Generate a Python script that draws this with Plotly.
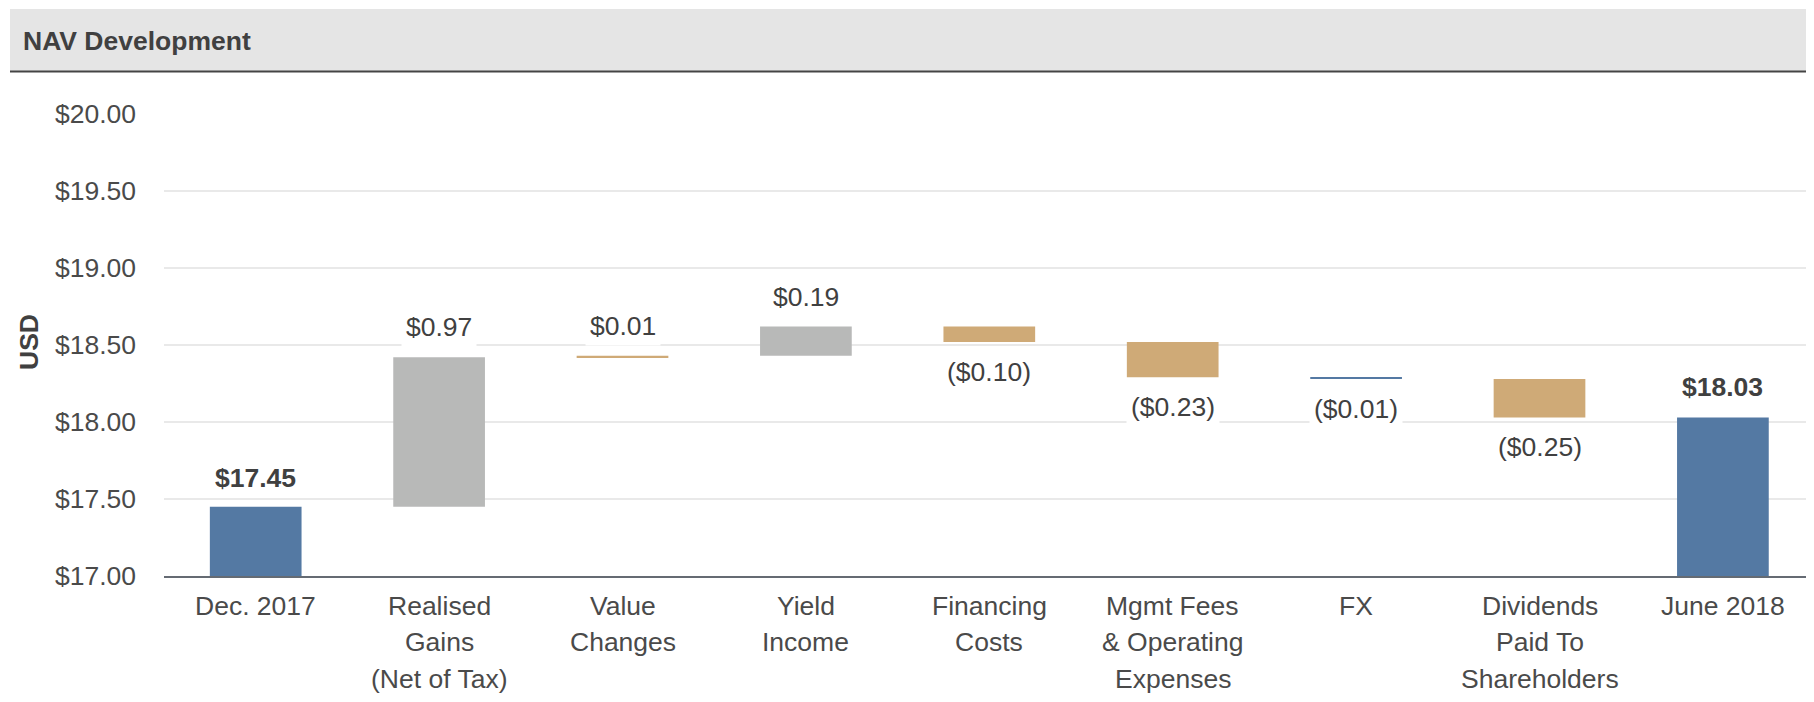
import plotly.graph_objects as go

# ---- data ----
categories = ["Dec. 2017", "Realised<br>Gains<br>(Net of Tax)", "Value<br>Changes", "Yield<br>Income",
              "Financing<br>Costs", "Mgmt Fees<br>& Operating<br>Expenses", "FX",
              "Dividends<br>Paid To<br>Shareholders", "June 2018"]
start_nav = 17.45
changes = [0.97, 0.01, 0.19, -0.10, -0.23, -0.01, -0.25]
end_nav = 18.03
y_ticks = [17.0, 17.5, 18.0, 18.5, 19.0, 19.5, 20.0]
y_tick_text = [f"${v:.2f}" for v in y_ticks]

# ---- styles ----
BLUE = "#5479a3"
GRAY = "#b8b9b8"
TAN = "#cfaa77"
bar_colors = [BLUE, GRAY, TAN, GRAY, TAN, TAN, BLUE, TAN, BLUE]
FONT = "Liberation Sans, Arial, sans-serif"
TXT = "#404040"
TICK = "#4a4a4a"
FS = 26.5

# figure geometry (page body has an 8px margin)
W, H = 1798, 686
ML, MT, MB = 156, 106, 118
PW, PH = W - ML, H - MT - MB


def px(x):  # figure px -> paper x
    return (x - ML) / PW


def py(y):  # figure px -> paper y
    return (H - MB - y) / PH


# ---- derive bars ----
bases, heights = [17.0], [start_nav - 17.0]
running = start_nav
for c in changes:
    bases.append(min(running, running + c))
    heights.append(abs(c))
    running += c
bases.append(17.0)
heights.append(end_nav - 17.0)

fig = go.Figure()
fig.add_trace(go.Bar(x=categories, y=heights, base=bases,
                     marker=dict(color=bar_colors, line=dict(width=0)),
                     width=0.5, hoverinfo="skip"))


def fmt(v):
    return f"${v:.2f}" if v >= 0 else f"(${abs(v):.2f})"


anns = [dict(x=categories[0], y=start_nav, text=f"<b>{fmt(start_nav)}</b>", yshift=29)]
running = start_nav
for i, c in enumerate(changes):
    cat = categories[i + 1]
    anns.append(dict(x=cat, y=running + c, text=fmt(c), yshift=30 if c >= 0 else -30))
    running += c
anns.append(dict(x=categories[-1], y=end_nav, text=f"<b>{fmt(end_nav)}</b>", yshift=30))
for a in anns:
    a.update(xref="x", yref="y", showarrow=False, yanchor="middle", xanchor="center",
             bgcolor="white", borderpad=4, font=dict(family=FONT, size=FS, color=TXT))
    fig.add_annotation(**a)

# category labels (one annotation per line for the original line spacing)
for cat in categories:
    for k, line in enumerate(cat.split("<br>")):
        fig.add_annotation(x=cat, xref="x", y=0, yref="paper", yanchor="middle", xanchor="center",
                           yshift=-(29.5 + 36.5 * k), showarrow=False, text=line,
                           font=dict(family=FONT, size=FS, color=TICK))

# header title & y title
fig.add_annotation(xref="paper", yref="paper", x=px(13), y=py(33),
                   xanchor="left", yanchor="middle", showarrow=False,
                   text="<b>NAV Development</b>", font=dict(family=FONT, size=FS, color=TXT))
fig.add_annotation(xref="paper", yref="paper", x=px(21), y=py(334),
                   xanchor="center", yanchor="middle", showarrow=False, textangle=-90,
                   text="<b>USD</b>", font=dict(family=FONT, size=FS, color=TXT))

# header band
fig.add_shape(type="rect", xref="paper", yref="paper",
              x0=px(2), x1=px(1800), y0=py(63.5), y1=py(1),
              fillcolor="#e5e5e5", line=dict(width=0), layer="below")
fig.add_shape(type="line", xref="paper", yref="paper",
              x0=px(2), x1=px(1800), y0=py(63.5), y1=py(63.5),
              line=dict(color="#444444", width=2))

fig.update_layout(
    width=W, height=H,
    margin=dict(l=ML, r=0, t=MT, b=MB),
    paper_bgcolor="white", plot_bgcolor="white",
    showlegend=False,
    font=dict(family=FONT, size=FS, color=TICK),
    xaxis=dict(showgrid=False, showline=True, linecolor="#656b73", linewidth=2, ticks="",
               showticklabels=False, range=[-0.5, -0.5 + PW / 183.4]),
    yaxis=dict(range=[17, 20], tickvals=y_ticks, ticktext=y_tick_text,
               showgrid=True, gridcolor="#e9e9e9", gridwidth=1.5, zeroline=False, showline=False,
               ticks="", ticklabelstandoff=27, tickfont=dict(family=FONT, size=FS, color=TICK)),
)

fig.write_html("out.html")
